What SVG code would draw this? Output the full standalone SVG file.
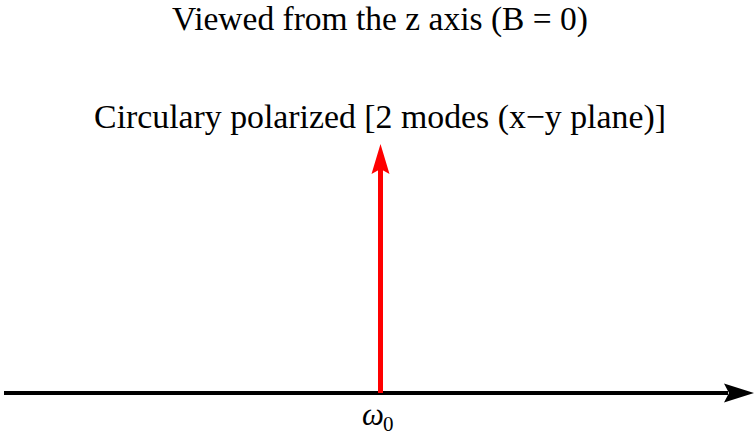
<svg xmlns="http://www.w3.org/2000/svg" width="756" height="437" viewBox="0 0 756 437">
<style>
text{font-family:'Liberation Serif','DejaVu Serif',serif;fill:#000;}
</style>
<rect width="756" height="437" fill="#fff"/>
<g id="title"><text x="380" y="30" font-size="33.5" text-anchor="middle">Viewed from the z axis (B = 0)</text></g>
<g id="label"><text x="380" y="128" font-size="33.8" text-anchor="middle">Circulary polarized [2 modes (x−y plane)]</text></g>
<g id="connectors">
<g id="axis">
<line x1="4" y1="393" x2="728" y2="393" stroke="#000" stroke-width="4"/>
<polygon points="754,393 724,383.5 729,393 724,402.5" fill="#000"/>
</g>
<g id="mode">
<line x1="380.5" y1="393" x2="380.5" y2="168" stroke="#f00" stroke-width="5"/>
<polygon points="380.5,144 389.5,174 380.5,169 371.5,174" fill="#f00"/>
</g>
</g>
<g id="omega"><text x="362" y="425" font-size="31" font-style="italic">ω</text><text x="383" y="431" font-size="21">0</text></g>
</svg>
